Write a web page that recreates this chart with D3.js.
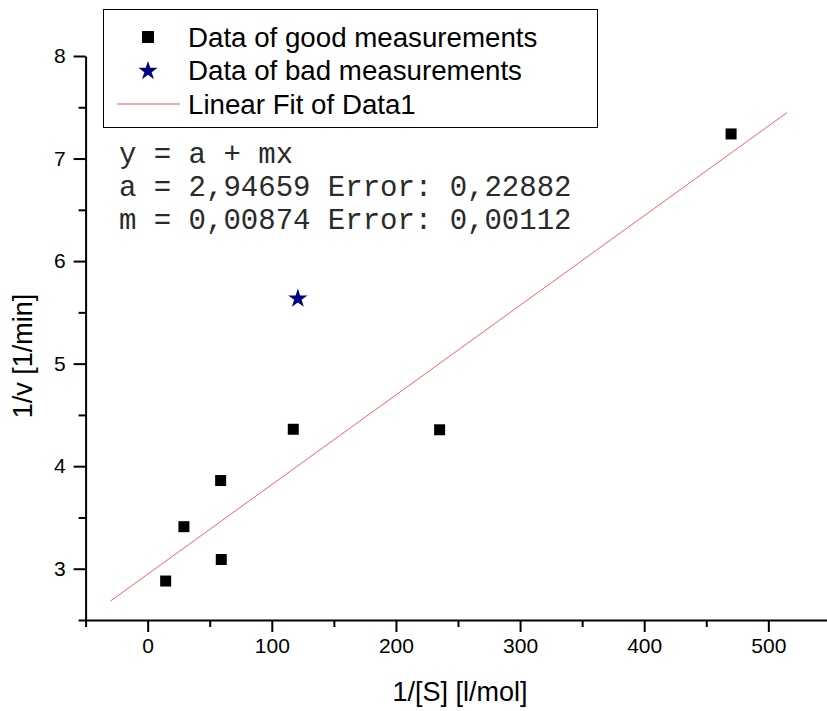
<!DOCTYPE html>
<html><head><meta charset="utf-8">
<script src="https://cdn.jsdelivr.net/npm/d3@7"></script>
<style>
body{margin:0;background:#fff;}
text{font-family:"Liberation Sans",Arial,sans-serif;}
</style></head>
<body>
<svg id="c" width="827" height="711"></svg>
<script>
const goodX = [14.5, 29.2, 58.8, 59.3, 117.3, 235.2, 470];
const goodY = [2.88, 3.41, 3.86, 3.09, 4.36, 4.355, 7.24];
const badX = [121];
const badY = [5.635];
const fitA = 2.94659, fitM = 0.00874;
const fitRange = [-30, 515];
const xTicks = [0, 100, 200, 300, 400, 500];
const yTicks = [3, 4, 5, 6, 7, 8];
const fitLines = ["y = a + mx", "a = 2,94659 Error: 0,22882", "m = 0,00874 Error: 0,00112"];
const legendItems = ["Data of good measurements", "Data of bad measurements", "Linear Fit of Data1"];

const svg = d3.select("#c");
const x = d3.scaleLinear().domain([-50, 550]).range([85.6, 830.4]);
const y = d3.scaleLinear().domain([2.5, 8]).range([620, 56]);

const xMinor = d3.range(-50, 551, 50).filter(v => !xTicks.includes(v));
const yMinor = d3.range(2.5, 8.01, 0.5).filter(v => !yTicks.includes(v));

const gx = svg.append("g").attr("transform", "translate(0,620)");
gx.call(d3.axisBottom(x).tickValues(xMinor).tickSize(7).tickSizeOuter(0).tickFormat(""));
gx.selectAll(".tick line").attr("stroke-width", 2);
gx.select(".domain").remove();
const gx2 = svg.append("g").attr("transform", "translate(0,620)");
gx2.call(d3.axisBottom(x).tickValues(xTicks).tickSize(12).tickSizeOuter(0).tickPadding(6));
gx2.selectAll("text").attr("font-size", 21).attr("fill", "#000").style("font-family", "Liberation Sans, Arial");
gx2.selectAll("line").attr("stroke-width", 2);
gx2.select(".domain").attr("stroke-width", 2);

const gy = svg.append("g").attr("transform", "translate(85.6,0)");
gy.call(d3.axisLeft(y).tickValues(yMinor).tickSize(7).tickSizeOuter(0).tickFormat(""));
gy.selectAll(".tick line").attr("stroke-width", 2);
gy.select(".domain").remove();
const gy2 = svg.append("g").attr("transform", "translate(85.6,0)");
gy2.call(d3.axisLeft(y).tickValues(yTicks).tickSize(12).tickSizeOuter(0).tickPadding(8).tickFormat(d3.format("d")));
gy2.selectAll("text").attr("font-size", 21).attr("fill", "#000").style("font-family", "Liberation Sans, Arial");
gy2.selectAll("line").attr("stroke-width", 2);
gy2.select(".domain").attr("stroke-width", 2);

// axis titles
svg.append("text").attr("x", 460).attr("y", 701).attr("text-anchor", "middle")
  .attr("font-size", 27).text("1/[S] [l/mol]");
svg.append("text").attr("transform", "translate(32,356) rotate(-90)").attr("text-anchor", "middle")
  .attr("font-size", 27).text("1/v [1/min]");

// fit line
svg.append("line")
  .attr("x1", x(fitRange[0])).attr("y1", y(fitA + fitM * fitRange[0]))
  .attr("x2", x(fitRange[1])).attr("y2", y(fitA + fitM * fitRange[1]))
  .attr("stroke", "#ff6060").attr("stroke-width", 1);

// good points
svg.selectAll("rect.good").data(goodX.map((v, i) => [v, goodY[i]])).enter()
  .append("rect").attr("class", "good")
  .attr("x", d => x(d[0]) - 5.5).attr("y", d => y(d[1]) - 5.5)
  .attr("width", 11).attr("height", 11).attr("fill", "#000");

// bad points
const star = d3.symbol().type(d3.symbolStar).size(115);
svg.selectAll("path.bad").data(badX.map((v, i) => [v, badY[i]])).enter()
  .append("path").attr("class", "bad").attr("d", star)
  .attr("transform", d => `translate(${x(d[0])},${y(d[1])})`).attr("fill", "#000080");

// legend
const lg = svg.append("g");
lg.append("rect").attr("x", 103.5).attr("y", 9.5).attr("width", 494).attr("height", 118)
  .attr("fill", "#fff").attr("stroke", "#000").attr("stroke-width", 1);
const rowY = [37, 70, 104];
lg.append("rect").attr("x", 142).attr("y", rowY[0] - 6).attr("width", 12).attr("height", 12).attr("fill", "#000");
lg.append("path").attr("d", star).attr("transform", `translate(148,${rowY[1] + 1})`).attr("fill", "#000080");
lg.append("line").attr("x1", 117).attr("x2", 180).attr("y1", rowY[2]).attr("y2", rowY[2])
  .attr("stroke", "#ff9090").attr("stroke-width", 1.5);
lg.selectAll("text.li").data(legendItems).enter().append("text").attr("class", "li")
  .attr("x", 188).attr("y", (d, i) => rowY[i] + 9.5).attr("font-size", 27.7).text(d => d);

// fit text
svg.selectAll("text.fit").data(fitLines).enter().append("text").attr("class", "fit")
  .attr("x", 119).attr("y", (d, i) => 163 + i * 33)
  .style("font-family", "Liberation Mono, Courier New, monospace").attr("font-size", 29)
  .attr("fill", "#2a2a2a").attr("xml:space", "preserve").text(d => d);
</script>
</body></html>
